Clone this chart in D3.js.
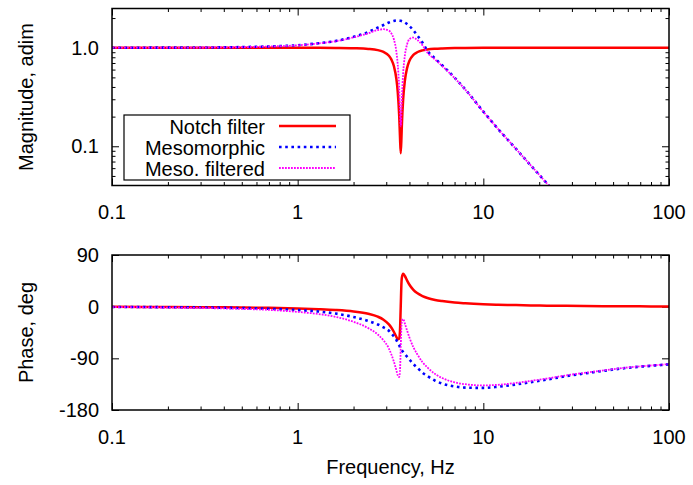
<!DOCTYPE html>
<html><head><meta charset="utf-8">
<script src="https://cdn.jsdelivr.net/npm/d3@7"></script>
<style>
body{margin:0;background:#fff}
svg{display:block}
text{font-family:"Liberation Sans",Arial,sans-serif;font-size:20px;fill:#000}
</style>
</head><body><svg id="c" width="693" height="485"></svg>
<script>
// ---- data ----
const freq = [0.1,0.15,0.2,0.3,0.4,0.5,0.7,1.0,1.3,1.6,2.0,2.4,2.7,2.9,3.1,3.2,3.3,3.4,3.46,3.52,3.555,3.59,3.625,3.64,3.7,3.78,3.88,4.0,4.2,4.4,4.7,5.0,5.5,6.0,7,8,10,12,15,18,22,28,35,45,60,80,100];
const notchMag = [1.000,1.000,1.000,1.000,0.999,0.999,0.999,0.998,0.997,0.994,0.987,0.972,0.945,0.907,0.829,0.757,0.648,0.484,0.355,0.210,0.129,0.085,0.128,0.161,0.300,0.464,0.617,0.737,0.845,0.899,0.939,0.959,0.975,0.983,0.991,0.994,0.997,0.998,0.999,0.999,1.000,1.000,1.000,1.000,1.000,1.000,1.000];
const mesoMag = [1.000,1.001,1.002,1.005,1.009,1.015,1.03,1.06,1.11,1.17,1.29,1.44,1.60,1.70,1.80,1.84,1.87,1.89,1.89,1.885,1.88,1.876,1.865,1.86,1.84,1.80,1.74,1.66,1.50,1.34,1.13,0.93,0.777,0.664,0.497,0.377,0.225,0.150,0.094,0.064,0.042,0.025,0.0155,0.0092,0.0050,0.0028,0.0018];
const filtMag = [1.000,1.001,1.002,1.005,1.008,1.014,1.029,1.058,1.107,1.163,1.273,1.400,1.512,1.542,1.492,1.393,1.212,0.915,0.671,0.396,0.243,0.159,0.239,0.299,0.552,0.835,1.074,1.223,1.268,1.205,1.061,0.892,0.758,0.653,0.493,0.375,0.224,0.150,0.094,0.064,0.042,0.025,0.0155,0.0092,0.0050,0.0028,0.0018];
const notchPhase = [-0.3,-0.4,-0.6,-0.9,-1.2,-1.5,-2.1,-3.2,-4.4,-5.8,-8.4,-12.4,-17.4,-22.7,-30.9,-36.7,-44.1,-52.6,-56.8,-55.5,-43.4,0,43.2,50.5,57.5,53.4,45.9,38.2,29.3,23.6,18.4,15.1,11.7,9.7,7.2,5.9,4.3,3.4,2.7,2.2,1.8,1.4,1.1,0.8,0.6,0.5,0.4];
const mesoPhase = [-0.5,-0.7,-1.0,-1.4,-1.9,-2.4,-3.5,-6.0,-8.5,-12,-18,-25,-31,-36,-42,-47,-52,-58,-63,-67,-70,-72,-75,-76,-79,-83,-87,-92,-100,-106,-115,-121,-129,-134,-139,-141,-141.5,-139.5,-135.5,-131.5,-127,-121,-116.5,-111.5,-106.5,-103,-100.5];
const filtPhase = [-0.8,-1.1,-1.6,-2.3,-3.1,-3.9,-5.6,-9.2,-12.9,-17.8,-26.4,-37.4,-48.4,-58.7,-72.9,-83.7,-96.1,-110.6,-119.8,-122.5,-113.4,-72,-31.8,-25.5,-21.5,-29.6,-41.1,-53.8,-70.7,-82.4,-96.6,-105.9,-117.3,-124.3,-131.8,-135.1,-137.2,-136.1,-132.8,-129.3,-125.2,-119.6,-115.4,-110.7,-105.9,-102.5,-100.1];

const seriesNames = ["Notch filter","Mesomorphic","Meso. filtered"];
const freqTicks = [0.1,1,10,100];
const freqTickLabels = ["0.1","1","10","100"];
const magTicks = [0.1,1.0];
const magTickLabels = ["0.1","1.0"];
const phaseTicks = [90,0,-90,-180];
const phaseTickLabels = ["90","0","-90","-180"];

// ---- layout ----
const L = 112, R = 669;
const magTop = 8.5, magBot = 185.5, phTop = 255, phBot = 410;
const styles = [
  {color:"#ff0000", width:2.5, dash:null},
  {color:"#0000ff", width:2.6, dash:"2.6,3.6"},
  {color:"#ff00ff", width:1.8, dash:"1.8,1.2"}
];

const svg = d3.select("#c");
const x = d3.scaleLog().domain([0.1,100]).range([L,R]);
const yM = d3.scaleLog().domain([0.04,2.5]).range([magBot,magTop]);
const yP = d3.scaleLinear().domain([-180,90]).range([phBot,phTop]);

const minorX = [];
[0.1,1,10].forEach(d => { for (let k=2;k<=9;k++) minorX.push(d*k); });
const minorM = [0.05,0.06,0.07,0.08,0.09,0.2,0.3,0.4,0.5,0.6,0.7,0.8,0.9,2];

const defs = svg.append("defs");
defs.append("clipPath").attr("id","clipM").append("rect")
  .attr("x",L).attr("y",magTop).attr("width",R-L).attr("height",magBot-magTop);
defs.append("clipPath").attr("id","clipP").append("rect")
  .attr("x",L).attr("y",phTop).attr("width",R-L).attr("height",phBot-phTop);

function ticks(g, top, bot, yScale, yMajor, yMinor) {
  const add = (axis, tr, vals, size) => {
    const a = g.append("g").attr("transform", tr)
      .call(axis.tickValues(vals).tickSize(-size).tickFormat(""));
    a.select(".domain").remove();
    a.selectAll("line").attr("stroke","#000").attr("stroke-width",1);
  };
  add(d3.axisBottom(x), `translate(0,${bot})`, freqTicks, 7);
  add(d3.axisBottom(x), `translate(0,${bot})`, minorX, 3.5);
  add(d3.axisTop(x), `translate(0,${top})`, freqTicks, 7);
  add(d3.axisTop(x), `translate(0,${top})`, minorX, 3.5);
  add(d3.axisLeft(yScale), `translate(${L},0)`, yMajor, 7);
  add(d3.axisRight(yScale), `translate(${R},0)`, yMajor, 7);
  if (yMinor.length) {
    add(d3.axisLeft(yScale), `translate(${L},0)`, yMinor, 3.5);
    add(d3.axisRight(yScale), `translate(${R},0)`, yMinor, 3.5);
  }
}

function panel(top, bot, yScale, yMajor, yMinor, yLabels, clipId, seriesList, title, labBase) {
  const g = svg.append("g");
  ticks(g, top, bot, yScale, yMajor, yMinor);
  // curves
  const line = d3.line().x((d,i)=>x(freq[i])).y(d=>yScale(d)).curve(d3.curveMonotoneX);
  const cg = g.append("g").attr("clip-path",`url(#${clipId})`);
  seriesList.forEach((vals, k) => {
    const p = cg.append("path").datum(vals).attr("d", line)
      .attr("fill","none").attr("stroke",styles[k].color)
      .attr("stroke-width",styles[k].width).attr("stroke-linejoin","round");
    if (styles[k].dash) p.attr("stroke-dasharray", styles[k].dash);
  });
  // frame
  g.append("rect").attr("x",L).attr("y",top).attr("width",R-L).attr("height",bot-top)
    .attr("fill","none").attr("stroke","#000").attr("stroke-width",1.5);
  // y tick labels
  g.selectAll(".yl").data(yMajor).enter().append("text")
    .attr("x",99).attr("y",d=>yScale(d)+7).attr("text-anchor","end")
    .text((d,i)=>yLabels[i]);
  // x tick labels
  g.selectAll(".xl").data(freqTicks).enter().append("text")
    .attr("x",d=>x(d)).attr("y",labBase).attr("text-anchor","middle")
    .text((d,i)=>freqTickLabels[i]);
  // y title
  g.append("text").attr("transform",`translate(33,${(top+bot)/2}) rotate(-90)`)
    .attr("text-anchor","middle").text(title);
  return g;
}

panel(magTop, magBot, yM, magTicks, minorM, magTickLabels, "clipM",
      [notchMag, mesoMag, filtMag], "Magnitude, adim", 219);
panel(phTop, phBot, yP, phaseTicks, [], phaseTickLabels, "clipP",
      [notchPhase, mesoPhase, filtPhase], "Phase, deg", 444);

svg.append("text").attr("x",(L+R)/2).attr("y",474).attr("text-anchor","middle").text("Frequency, Hz");

// legend
const lg = svg.append("g");
lg.append("rect").attr("x",124).attr("y",115).attr("width",226).attr("height",65)
  .attr("fill","#fff").attr("stroke","#000").attr("stroke-width",1.2);
const rowY = [126, 147, 168];
seriesNames.forEach((n,k) => {
  lg.append("text").attr("x",265).attr("y",rowY[k]+7.5).attr("text-anchor","end").text(n);
  const l = lg.append("line").attr("x1",279).attr("x2",336).attr("y1",rowY[k]).attr("y2",rowY[k])
    .attr("stroke",styles[k].color).attr("stroke-width",styles[k].width);
  if (styles[k].dash) l.attr("stroke-dasharray",styles[k].dash);
});
</script>
</body></html>
